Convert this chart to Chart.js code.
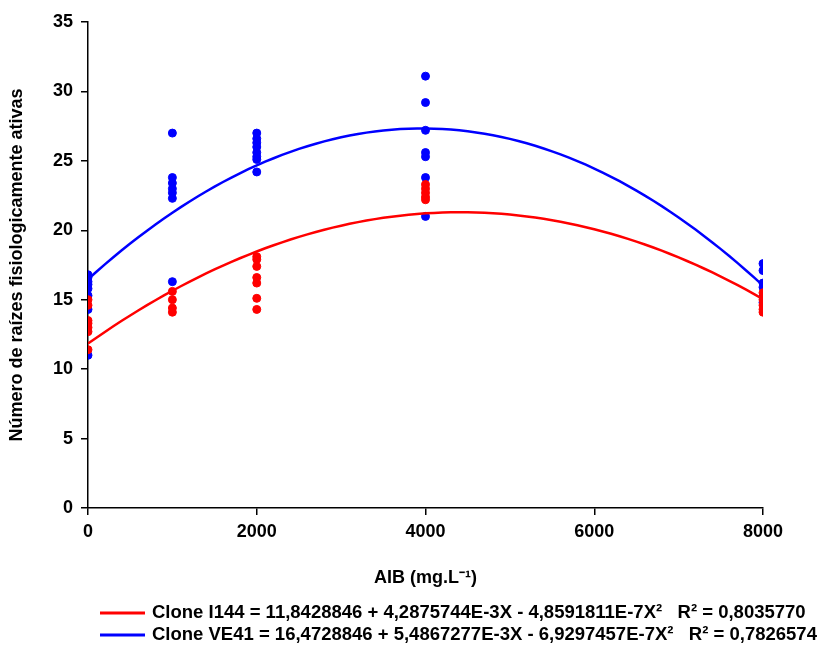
<!DOCTYPE html>
<html>
<head>
<meta charset="utf-8">
<script src="https://cdn.jsdelivr.net/npm/chart.js@4.4.1/dist/chart.umd.min.js"></script>
<style>
  html, body { margin: 0; padding: 0; background: #fff; }
  #wrap { width: 839px; height: 649px; position: relative; }
</style>
</head>
<body>
<div id="wrap"><canvas id="myChart"></canvas></div>
<script>
'use strict';

// doses of AIB (mg.L-1)
const doses = [0, 1000, 2000, 4000, 8000];
// x tick labels
const xTicks = [0, 2000, 4000, 6000, 8000];

// observed roots per dose, clone I144
const i144 = [
  [15.0, 14.6, 13.5, 13.3, 13.0, 12.7, 11.4],
  [15.6, 15.0, 14.4, 14.1],
  [18.1, 17.9, 17.4, 16.6, 16.2, 15.1, 14.3],
  [23.3, 23.0, 22.7, 22.4, 22.2],
  [15.5, 15.0, 14.6, 14.3, 14.1]
];
// observed roots per dose, clone VE41
const ve41 = [
  [16.8, 16.6, 16.3, 16.1, 15.8, 15.3, 14.3, 11.0],
  [27.0, 23.8, 23.4, 23.0, 22.7, 22.3, 16.3],
  [27.0, 26.6, 26.3, 26.0, 25.6, 25.3, 25.1, 24.2],
  [31.1, 29.2, 27.2, 25.6, 25.3, 23.8, 21.0],
  [17.6, 17.1, 16.2, 15.9, 15.2, 14.8]
];

// regression coefficients (a + bX + cX²) as written in the legend
const coefI144 = [11.8428846, 4.2875744e-3, -4.8591811e-7];
const coefVE41 = [16.4728846, 5.4867277e-3, -6.9297457e-7];

const legendText = [
  'Clone I144 = 11,8428846 + 4,2875744E-3X - 4,8591811E-7X²   R² = 0,8035770',
  'Clone VE41 = 16,4728846 + 5,4867277E-3X - 6,9297457E-7X²   R² = 0,7826574'
];
const legendColors = ['#ff0000', '#0000ff'];

// turn the per-dose lists into {x, y} points
function toPoints(groups) {
  let pts = [];
  for (let i = 0; i < doses.length; i++) {
    for (let j = 0; j < groups[i].length; j++) {
      pts.push({ x: doses[i], y: groups[i][j] });
    }
  }
  return pts;
}

// fitted curve from the coefficients
function curve(c) {
  let pts = [];
  for (let x = 0; x <= 8000; x += 100) {
    pts.push({ x: x, y: c[0] + c[1] * x + c[2] * x * x });
  }
  return pts;
}

const fontFamily = '"Liberation Sans", Arial, sans-serif';

// legend drawn under the axis title
const bottomLegend = {
  id: 'bottomLegend',
  afterDraw(chart) {
    const ctx = chart.ctx;
    ctx.save();
    ctx.font = 'bold 18.5px ' + fontFamily;
    ctx.textBaseline = 'middle';
    for (let i = 0; i < legendText.length; i++) {
      const y = 613 + i * 22;
      ctx.strokeStyle = legendColors[i];
      ctx.lineWidth = 3;
      ctx.beginPath();
      ctx.moveTo(100, y);
      ctx.lineTo(145, y);
      ctx.stroke();
      ctx.fillStyle = '#000';
      ctx.fillText(legendText[i], 152, y);
    }
    ctx.restore();
  }
};

const tickFont = { family: fontFamily, size: 18, weight: 'bold' };

const config = {
  type: 'scatter',
  data: {
    datasets: [
      {
        label: 'I144 fit',
        data: curve(coefI144),
        showLine: true,
        borderColor: '#ff0000',
        borderWidth: 2.5,
        pointRadius: 0,
        order: 0
      },
      {
        label: 'VE41 fit',
        data: curve(coefVE41),
        showLine: true,
        borderColor: '#0000ff',
        borderWidth: 2.5,
        pointRadius: 0,
        order: 1
      },
      {
        label: 'I144',
        data: toPoints(i144),
        backgroundColor: '#ff0000',
        borderColor: '#ff0000',
        pointRadius: 4,
        order: 2
      },
      {
        label: 'VE41',
        data: toPoints(ve41),
        backgroundColor: '#0000ff',
        borderColor: '#0000ff',
        pointRadius: 4,
        order: 3
      }
    ]
  },
  options: {
    responsive: true,
    maintainAspectRatio: false,
    animation: false,
    layout: { padding: { top: 22, right: 76, bottom: 56, left: 0 } },
    plugins: {
      legend: { display: false },
      tooltip: { enabled: false }
    },
    scales: {
      x: {
        type: 'linear',
        min: 0,
        max: 8000,
        afterBuildTicks: (axis) => { axis.ticks = xTicks.map(v => ({ value: v })); },
        afterFit: (axis) => { axis.height = 85; },
        grid: { drawOnChartArea: false, drawTicks: true, tickLength: 7, color: '#000', lineWidth: 1.5 },
        border: { color: '#000', width: 1.5 },
        ticks: { color: '#000', font: tickFont, padding: 6, maxRotation: 0, callback: (v) => String(v) },
        title: {
          display: true,
          text: 'AIB (mg.L⁻¹)',
          color: '#000',
          font: tickFont,
          padding: { top: 20 }
        }
      },
      y: {
        min: 0,
        max: 35,
        afterFit: (axis) => { axis.width = 88; },
        grid: { drawOnChartArea: false, drawTicks: true, tickLength: 7, color: '#000', lineWidth: 1.5 },
        border: { color: '#000', width: 1.5 },
        ticks: { color: '#000', font: tickFont, stepSize: 5, padding: 8 },
        title: {
          display: true,
          text: 'Número de raízes fisiologicamente ativas',
          color: '#000',
          font: tickFont,
          padding: { top: 6, bottom: 0 }
        }
      }
    }
  },
  plugins: [bottomLegend]
};

const ctx = document.getElementById('myChart').getContext('2d');
const myChart = new Chart(ctx, config);
</script>
</body>
</html>
